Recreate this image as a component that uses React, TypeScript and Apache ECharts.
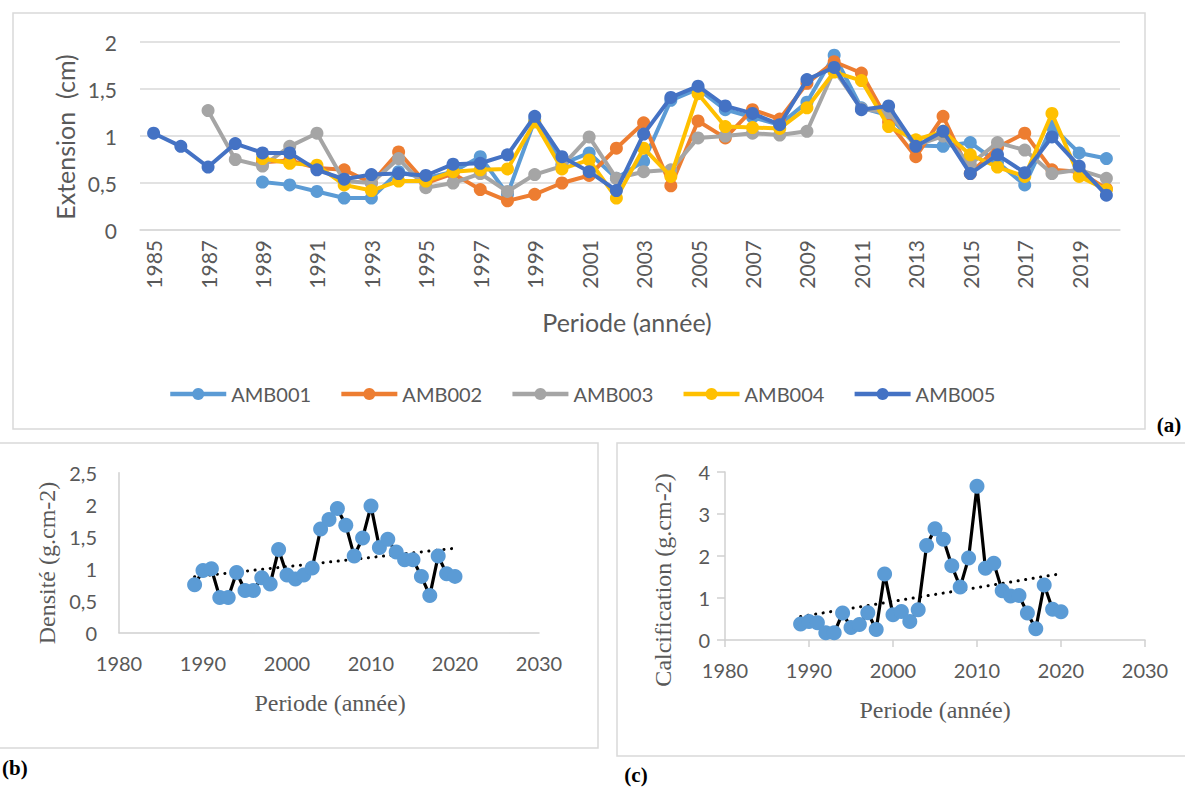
import React, { useEffect, useRef } from "react";
import * as echarts from "echarts";

// ---------- Panel (a) data: Extension (cm) ----------
const yearsA = [
  "1985", "1986", "1987", "1988", "1989", "1990", "1991", "1992", "1993", "1994",
  "1995", "1996", "1997", "1998", "1999", "2000", "2001", "2002", "2003", "2004",
  "2005", "2006", "2007", "2008", "2009", "2010", "2011", "2012", "2013", "2014",
  "2015", "2016", "2017", "2018", "2019", "2020",
];
const amb001 = [
  null, null, null, null, 0.51, 0.48, 0.41, 0.34, 0.34, 0.62,
  0.55, 0.62, 0.78, 0.38, 1.17, 0.7, 0.82, 0.55, 0.73, 1.38,
  1.5, 1.28, 1.2, 1.12, 1.36, 1.86, 1.3, 1.22, 0.9, 0.89,
  0.93, 0.72, 0.48, 1.1, 0.82, 0.76,
];
const amb002 = [
  null, null, null, null, 0.72, 0.74, 0.66, 0.64, 0.5, 0.83,
  0.5, 0.6, 0.43, 0.31, 0.38, 0.5, 0.58, 0.87, 1.14, 0.47,
  1.16, 0.98, 1.28, 1.18, 1.56, 1.79, 1.67, 1.15, 0.78, 1.21,
  0.6, 0.88, 1.03, 0.64, 0.62, 0.44,
];
const amb003 = [
  null, null, 1.27, 0.75, 0.68, 0.89, 1.03, 0.52, 0.5, 0.76,
  0.45, 0.5, 0.6, 0.41, 0.59, 0.68, 0.99, 0.55, 0.62, 0.64,
  0.98, 1.0, 1.03, 1.01, 1.05, 1.7, 1.29, 1.25, 0.9, 1.0,
  0.7, 0.93, 0.85, 0.6, 0.64, 0.55,
];
const amb004 = [
  null, null, null, null, 0.76, 0.71, 0.69, 0.48, 0.42, 0.52,
  0.52, 0.62, 0.64, 0.65, 1.15, 0.65, 0.745, 0.34, 0.87, 0.57,
  1.45, 1.1, 1.09, 1.08, 1.3, 1.68, 1.59, 1.1, 0.96, 1.05,
  0.8, 0.67, 0.57, 1.24, 0.57, 0.43,
];
const amb005 = [
  1.03, 0.89, 0.67, 0.92, 0.82, 0.82, 0.64, 0.54, 0.59, 0.6,
  0.58, 0.7, 0.71, 0.8, 1.21, 0.78, 0.62, 0.42, 1.02, 1.41,
  1.53, 1.32, 1.24, 1.12, 1.6, 1.73, 1.28, 1.32, 0.89, 1.05,
  0.6, 0.8, 0.61, 0.99, 0.68, 0.37,
];
const seriesNamesA = ["AMB001", "AMB002", "AMB003", "AMB004", "AMB005"];
const seriesColorsA = ["#5B9BD5", "#ED7D31", "#A5A5A5", "#FFC000", "#4472C4"];

// ---------- Panels (b) and (c) data ----------
const yearsBC = [
  1989, 1990, 1991, 1992, 1993, 1994, 1995, 1996, 1997, 1998,
  1999, 2000, 2001, 2002, 2003, 2004, 2005, 2006, 2007, 2008,
  2009, 2010, 2011, 2012, 2013, 2014, 2015, 2016, 2017, 2018,
  2019, 2020,
];
const densite = [
  0.75, 0.97, 1.0, 0.55, 0.55, 0.94, 0.66, 0.66, 0.86, 0.76,
  1.3, 0.9, 0.84, 0.9, 1.01, 1.62, 1.77, 1.94, 1.68, 1.2,
  1.48, 1.98, 1.33, 1.46, 1.26, 1.14, 1.14, 0.88, 0.58, 1.2,
  0.92, 0.88,
];
const calcification = [
  0.38, 0.44, 0.41, 0.17, 0.17, 0.64, 0.3, 0.37, 0.65, 0.25,
  1.57, 0.6, 0.68, 0.44, 0.72, 2.25, 2.65, 2.4, 1.77, 1.26,
  1.95, 3.66, 1.71, 1.83, 1.17, 1.05, 1.06, 0.64, 0.27, 1.31,
  0.73, 0.67,
];
const xRangeBC = [1980, 2030];
const xStepBC = 10;

const SANS = "Lato, 'Open Sans', sans-serif";
const SERIF = "'Liberation Serif', 'DejaVu Serif', serif";
const GREY_TEXT = "#595959";
const AXIS_GREY = "#D9D9D9";

const comma = (v: number) => String(v).replace(".", ",");
const plain = (v: number) => String(v);

// Linear least-squares trend line (what Excel's linear trendline draws)
function trend(xs: number[], ys: number[]) {
  const n = xs.length;
  const mx = xs.reduce((a, b) => a + b, 0) / n;
  const my = ys.reduce((a, b) => a + b, 0) / n;
  let sxy = 0;
  let sxx = 0;
  for (let i = 0; i < n; i++) {
    sxy += (xs[i] - mx) * (ys[i] - my);
    sxx += (xs[i] - mx) * (xs[i] - mx);
  }
  const b = sxy / sxx;
  const a = my - b * mx;
  const x0 = xs[0];
  const x1 = xs[n - 1];
  return [
    [x0, a + b * x0],
    [x1, a + b * x1],
  ];
}

export default function App() {
  const ref = useRef<HTMLDivElement>(null);

  useEffect(() => {
    if (!ref.current) return;
    const chart = echarts.init(ref.current, undefined, { renderer: "svg" });

    const seriesA = [amb001, amb002, amb003, amb004, amb005].map((d, i) => ({
      name: seriesNamesA[i],
      type: "line",
      xAxisIndex: 0,
      yAxisIndex: 0,
      data: d,
      symbol: "circle",
      symbolSize: 13,
      showSymbol: true,
      connectNulls: false,
      lineStyle: { color: seriesColorsA[i], width: 4 },
      itemStyle: { color: seriesColorsA[i] },
      z: 2 + i,
    }));

    const pairs = (ys: number[]) => yearsBC.map((y, i) => [y, ys[i]]);

    const bcSeries = (data: number[], idx: number, name: string) => [
      {
        name,
        type: "line",
        xAxisIndex: idx,
        yAxisIndex: idx,
        data: pairs(data),
        symbol: "circle",
        symbolSize: 15,
        lineStyle: { color: "#000000", width: 3.2 },
        itemStyle: { color: "#5B9BD5" },
        z: 3,
      },
      {
        name: name + " tendance",
        type: "line",
        xAxisIndex: idx,
        yAxisIndex: idx,
        data: trend(yearsBC, data),
        symbol: "none",
        lineStyle: { color: "#000000", width: 3, type: [0.1, 7.5], cap: "round" },
        z: 2,
      },
    ];

    const tickLabel = { color: GREY_TEXT, fontSize: 20, fontFamily: SANS };

    const option = {
      animation: false,
      backgroundColor: "#ffffff",
      grid: [
        { left: 140, top: 42, width: 980, height: 188 },
        { left: 119, top: 472.7, width: 420, height: 160 },
        { left: 725, top: 472, width: 420, height: 168 },
      ],
      legend: {
        data: seriesNamesA,
        left: 163,
        top: 379,
        itemWidth: 56,
        itemHeight: 15,
        itemGap: 28,
        lineStyle: { width: 4.5 },
        textStyle: { color: GREY_TEXT, fontSize: 20, fontFamily: SANS },
      },
      xAxis: [
        {
          gridIndex: 0,
          type: "category",
          data: yearsA,
          boundaryGap: true,
          axisLine: { show: true, lineStyle: { color: AXIS_GREY, width: 1.5 } },
          axisTick: { show: false },
          axisLabel: { ...tickLabel, fontSize: 21, interval: 1, rotate: 90, margin: 10 },
          splitLine: { show: false },
        },
        {
          gridIndex: 1,
          type: "value",
          min: xRangeBC[0],
          max: xRangeBC[1],
          interval: xStepBC,
          axisLine: { show: true, lineStyle: { color: "#D0D0D0", width: 1.5 } },
          axisTick: { show: false },
          axisLabel: { ...tickLabel, margin: 20, formatter: plain },
          splitLine: { show: false },
        },
        {
          gridIndex: 2,
          type: "value",
          min: xRangeBC[0],
          max: xRangeBC[1],
          interval: xStepBC,
          axisLine: { show: true, lineStyle: { color: "#D0D0D0", width: 1.5 } },
          axisTick: { show: true, length: 7, lineStyle: { color: "#D0D0D0", width: 1.5 } },
          axisLabel: { ...tickLabel, margin: 20, formatter: plain },
          splitLine: { show: false },
        },
      ],
      yAxis: [
        {
          gridIndex: 0,
          type: "value",
          min: 0,
          max: 2,
          interval: 0.5,
          axisLine: { show: false },
          axisTick: { show: false },
          axisLabel: { ...tickLabel, fontSize: 21, margin: 23, formatter: comma },
          splitLine: { show: true, lineStyle: { color: AXIS_GREY, width: 1.5 } },
        },
        {
          gridIndex: 1,
          type: "value",
          min: 0,
          max: 2.5,
          interval: 0.5,
          axisLine: { show: true, lineStyle: { color: "#D0D0D0", width: 1.5 } },
          axisTick: { show: false },
          axisLabel: { ...tickLabel, margin: 22, formatter: comma },
          splitLine: { show: false },
        },
        {
          gridIndex: 2,
          type: "value",
          min: 0,
          max: 4,
          interval: 1,
          axisLine: { show: true, lineStyle: { color: "#D0D0D0", width: 1.5 } },
          axisTick: { show: true, length: 8, lineStyle: { color: "#D0D0D0", width: 1.5 } },
          axisLabel: { ...tickLabel, margin: 15, formatter: comma },
          splitLine: { show: false },
        },
      ],
      graphic: [
        // panel frames
        { type: "rect", shape: { x: 13, y: 13, width: 1132, height: 416 }, style: { fill: "none", stroke: "#D9D9D9", lineWidth: 1.5 }, z: 0 },
        { type: "rect", shape: { x: -2, y: 443, width: 600, height: 305 }, style: { fill: "none", stroke: "#D9D9D9", lineWidth: 1.5 }, z: 0 },
        { type: "rect", shape: { x: 617, y: 443, width: 580, height: 313 }, style: { fill: "none", stroke: "#D9D9D9", lineWidth: 1.5 }, z: 0 },
        // panel (a) titles
        { type: "text", x: 65, y: 137, rotation: Math.PI / 2, style: { text: "Extension  (cm)", fill: GREY_TEXT, font: `25px ${SANS}`, align: "center", verticalAlign: "middle" } },
        { type: "text", x: 627, y: 322, style: { text: "Periode (année)", fill: GREY_TEXT, font: `25px ${SANS}`, align: "center", verticalAlign: "middle" } },
        // panel (b) titles
        { type: "text", x: 47, y: 563, rotation: Math.PI / 2, style: { text: "Densité (g.cm-2)", fill: GREY_TEXT, font: `24px ${SERIF}`, align: "center", verticalAlign: "middle" } },
        { type: "text", x: 330, y: 703, style: { text: "Periode (année)", fill: GREY_TEXT, font: `24px ${SERIF}`, align: "center", verticalAlign: "middle" } },
        // panel (c) titles
        { type: "text", x: 663, y: 580, rotation: Math.PI / 2, style: { text: "Calcification (g.cm-2)", fill: GREY_TEXT, font: `24px ${SERIF}`, align: "center", verticalAlign: "middle" } },
        { type: "text", x: 935, y: 710, style: { text: "Periode (année)", fill: GREY_TEXT, font: `24px ${SERIF}`, align: "center", verticalAlign: "middle" } },
        // panel labels
        { type: "text", x: 1169, y: 425, style: { text: "(a)", fill: "#000000", font: `bold 21px ${SERIF}`, align: "center", verticalAlign: "middle" } },
        { type: "text", x: 2, y: 768, style: { text: "(b)", fill: "#000000", font: `bold 21px ${SERIF}`, align: "left", verticalAlign: "middle" } },
        { type: "text", x: 636, y: 775, style: { text: "(c)", fill: "#000000", font: `bold 21px ${SERIF}`, align: "center", verticalAlign: "middle" } },
      ],
      series: [
        ...seriesA,
        ...bcSeries(densite, 1, "Densité"),
        ...bcSeries(calcification, 2, "Calcification"),
      ],
    };

    chart.setOption(option as any);
    return () => chart.dispose();
  }, []);

  return (
    <div
      ref={ref}
      style={{ position: "absolute", left: 0, top: 0, width: 1185, height: 787, background: "#fff" }}
    />
  );
}
